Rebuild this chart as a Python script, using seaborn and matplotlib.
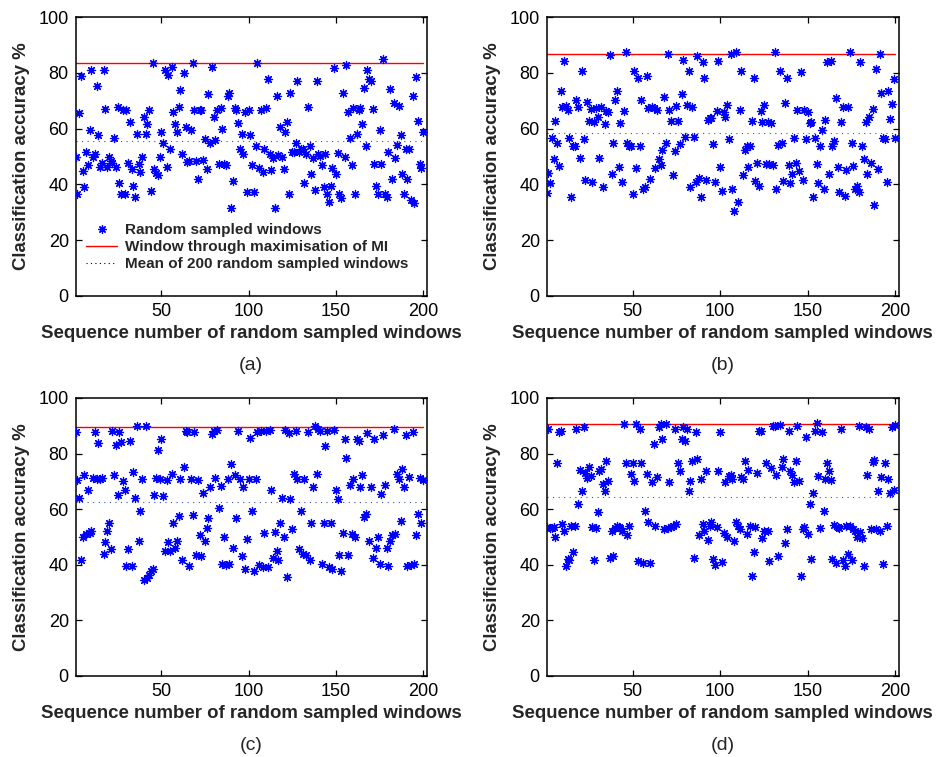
import numpy as np
import pandas as pd
import matplotlib
matplotlib.use("Agg")
import matplotlib.pyplot as plt
from matplotlib.lines import Line2D
import seaborn as sns

# ---------------- data ----------------
acc_a = [
    49.8, 36.4, 65.7, 78.7, 44.8, 39.0, 51.6, 47.0, 59.5, 80.9,
    49.8, 51.0, 75.3, 57.7, 46.2, 47.8, 81.1, 66.9, 46.2, 49.8,
    48.4, 47.8, 56.8, 46.2, 67.7, 40.6, 36.7, 66.5, 36.7, 66.7,
    47.8, 62.4, 45.4, 39.4, 35.5, 58.2, 47.2, 44.4, 49.8, 64.3,
    58.2, 61.8, 66.7, 37.6, 83.6, 45.4, 44.2, 43.4, 49.8, 58.8,
    55.0, 80.9, 46.2, 79.1, 52.6, 82.1, 65.9, 61.8, 58.8, 67.7,
    73.7, 50.8, 79.8, 60.6, 48.0, 48.4, 59.4, 83.6, 66.7, 48.4, 41.8,
    66.7, 66.5, 48.6, 56.2, 45.6, 72.5, 55.0, 82.1, 64.2, 55.8,
    66.5, 47.2, 67.5, 60.0, 47.2, 46.8, 71.7, 72.9, 31.4, 41.2,
    67.5, 66.5, 61.9, 52.6, 58.2, 51.0, 65.9, 37.4, 66.5, 57.6,
    47.0, 37.4, 53.8, 83.6, 46.0, 66.5, 44.4, 52.6, 67.3, 77.9,
    51.0, 45.0, 49.6, 31.4, 71.7, 50.4, 60.7, 49.8, 45.4, 58.8,
    62.4, 36.7, 72.9, 51.6, 51.6, 55.0, 77.1, 51.6, 52.6, 52.8,
    40.4, 51.0, 67.7, 53.8, 43.8, 49.6, 38.0, 77.1, 51.0, 50.2,
    47.0, 39.2, 51.0, 36.4,
    33.7, 39.4, 46.0, 81.8, 43.8, 51.4, 36.7, 35.2, 72.9, 49.8,
    82.7, 65.9, 56.5, 47.0, 67.3, 36.7, 58.2, 66.7, 67.3, 61.8,
    74.7, 53.8, 80.9, 77.9, 77.1, 66.9, 47.2, 39.4, 36.4,
    59.5, 47.2, 84.8, 36.4, 35.5, 51.6, 74.3, 42.0, 69.3, 49.6,
    54.0, 68.1, 57.6, 43.8, 36.4, 52.6, 42.0, 52.6, 34.3, 71.7,
    33.2, 78.5, 62.7, 47.2, 46.0, 58.8,
]

acc_b = [
    36.8, 44.2, 40.4, 56.8, 49.0, 62.8, 54.8, 46.6, 73.6, 67.9,
    84.3, 68.1, 66.7, 56.5, 35.6, 53.8, 53.8, 70.3, 67.9, 49.4,
    80.5, 56.2, 41.6, 69.5, 62.8, 67.1, 40.7, 62.2, 67.5, 64.3,
    49.4, 67.9, 39.2, 61.7, 66.3, 66.1, 86.4, 43.6, 55.0, 70.3,
    73.6, 46.4, 61.9, 40.7, 66.3, 87.6, 54.8, 53.6, 53.6, 36.6,
    80.7, 45.8, 78.1, 53.6, 70.3, 38.4, 39.2, 79.0, 67.5, 41.8,
    67.9, 67.3, 46.0, 66.7, 49.1, 47.0, 52.4, 71.2, 54.8, 86.8,
    66.7, 62.8, 43.4, 52.0,
    68.1, 62.8, 54.5, 72.3, 84.6, 56.9, 68.3, 80.5, 39.0, 67.9,
    56.9, 40.7, 86.1, 42.4, 35.6, 83.7, 78.1, 41.6, 63.1, 63.7,
    63.7, 54.5, 41.0, 66.3, 84.4, 46.2, 37.8, 66.1, 64.3, 68.5,
    56.2, 86.8, 38.4, 30.5, 87.4, 33.6, 66.5, 80.8, 43.4, 52.4,
    53.8, 46.2, 53.8, 62.8, 78.3, 41.2, 47.8, 39.6, 66.3, 62.5,
    68.3, 47.3, 62.5, 47.3, 61.9, 47.0, 87.6, 38.4, 54.2, 80.7,
    55.0, 41.2, 69.1, 78.1, 47.0, 40.4, 43.6, 56.5, 47.6, 66.5,
    44.8, 80.4,
    41.4, 66.7, 56.3, 66.1, 61.9, 62.2, 35.4, 56.5, 47.3, 40.4,
    53.8, 59.5, 38.4, 63.1, 83.8, 43.6, 84.3, 53.6, 55.6, 71.1,
    46.2, 37.1, 62.3, 67.9, 35.9, 45.0, 67.7, 87.6, 54.8, 46.7,
    38.4, 39.5, 37.4, 83.8, 53.9, 49.1, 62.3, 43.6, 64.3, 47.8,
    67.1, 32.6, 81.3, 45.4, 86.8, 72.9, 56.5, 56.3, 40.8, 73.6,
    63.5, 68.7, 77.8, 56.8,
]

acc_c = [
    87.8, 70.4, 64.1, 41.6, 50.0, 72.4, 50.9, 67.0, 51.6, 52.0,
    71.2, 87.8, 71.0, 83.8, 71.0, 71.2, 43.8, 48.2, 52.0, 55.2,
    45.8, 88.2, 72.4, 83.2, 65.0, 87.8, 84.0, 70.0, 67.0, 39.5,
    45.8, 84.6, 39.5, 73.4, 64.0, 89.8, 48.4, 59.4, 71.0, 34.4,
    89.8, 35.2, 36.5, 37.7, 38.6, 65.0, 71.2, 81.2, 71.0, 85.4,
    64.6, 44.9, 70.6, 48.2, 44.9, 72.8, 55.2, 46.1, 48.5, 57.6,
    71.0, 41.6, 75.2, 88.0, 87.6, 39.5, 71.0, 57.8, 87.8, 43.4,
    70.4, 50.6, 43.2, 66.0, 48.5, 53.2, 56.8, 68.0, 87.2, 88.0,
    71.2, 88.4, 60.4, 68.4, 40.4, 50.0, 39.8, 71.0, 40.4, 76.4,
    46.1, 72.4, 56.8, 88.0, 71.0, 43.2, 68.0, 38.6, 49.4, 71.0,
    85.6, 59.4, 37.7, 71.0, 87.8, 39.8, 88.0, 39.2, 51.4, 88.0,
    39.2, 88.4, 66.8, 42.4, 51.8, 44.8, 41.8, 55.2, 64.0, 50.0,
    88.4, 35.6, 87.4, 63.8, 53.0, 72.8, 88.2, 71.0, 45.8, 59.4,
    44.0, 71.0, 43.4, 87.8, 41.8, 55.2, 68.0, 90.0, 72.8, 89.0,
    88.2, 40.4, 55.2, 82.8, 88.2, 39.2, 55.2, 38.6, 88.4, 67.0,
    63.8, 43.6, 37.7, 51.4, 85.4, 78.4, 43.6, 68.6, 51.2, 70.8,
    50.0, 85.4, 84.4, 68.0, 72.2, 57.2, 58.2, 87.4, 48.5, 68.0,
    42.6, 85.4, 46.2, 50.0, 40.4, 65.6, 86.6, 68.6, 46.0, 39.5,
    48.5, 50.6, 89.0, 51.2, 72.8, 71.0, 55.8, 74.6, 68.0, 86.6,
    39.5, 71.6, 39.8, 87.8, 40.4, 50.6, 58.2, 71.2, 55.2, 70.4,
]

acc_d = [
    53.5, 88.9, 53.3, 53.3, 53.5, 50.1, 76.7, 87.7, 88.3, 54.5,
    52.3, 39.5, 42.1, 41.9, 54.1, 44.7, 54.1, 88.9, 61.7, 74.1,
    66.5, 89.5, 72.9, 71.1, 75.1, 72.1, 53.7, 41.8, 53.1, 59.1,
    73.9, 74.5, 69.1, 66.5, 77.5, 70.1, 42.3, 52.0, 43.3, 53.1,
    54.1, 53.5, 53.1, 52.3, 90.7, 76.7, 50.7, 53.9, 72.5, 76.7,
    70.3, 90.7, 41.3, 88.9, 76.7, 40.7, 59.3, 72.7, 55.5, 40.7,
    69.7, 83.5, 53.9, 71.5, 89.5, 90.7, 85.3, 52.7, 90.7, 53.1,
    69.7, 53.5, 54.1, 88.9, 54.7, 76.5, 73.9, 85.3, 89.5, 84.7,
    88.9, 66.5, 70.1, 77.5, 42.3, 87.7, 78.1, 50.7, 70.7, 54.7,
    52.0, 73.9, 48.9, 53.9, 55.5, 42.1, 39.9, 53.5, 73.9, 87.7,
    41.1, 51.5, 69.9,
    49.9, 71.9, 72.3, 70.9, 48.7, 55.3, 54.1, 52.7, 71.5,
    70.9, 77.5, 51.1, 74.1, 54.1, 35.9, 44.7, 53.5, 73.1, 88.1,
    88.3, 49.5, 52.1, 76.5, 52.3, 41.5, 74.7, 90.1, 90.1, 72.3,
    43.3, 90.3, 75.1, 77.9, 47.9, 52.9, 88.3, 73.9, 72.3, 69.7,
    77.5, 89.9, 70.3, 35.9, 52.7, 53.5, 85.9, 50.9, 61.7, 42.1,
    65.9, 88.3, 90.9, 72.1, 53.3, 87.9, 59.3, 70.7, 76.5, 73.9,
    70.5, 42.1, 54.3, 40.7, 53.5, 53.3, 88.7, 41.9, 39.5, 54.1,
    43.9, 54.1, 41.9, 52.7, 52.1, 49.9, 90.1, 51.7, 49.5,
    39.5, 89.5, 72.3, 88.7, 52.9, 76.9, 77.7, 52.7, 66.5, 52.3,
    71.5, 40.3, 76.7, 54.1, 70.7, 65.9, 89.5, 67.0, 90.3,
]

mi_window_acc = [83.5, 86.8, 89.7, 90.6]      # red line per panel
panel_tags = ["(a)", "(b)", "(c)", "(d)"]
series = [acc_a, acc_b, acc_c, acc_d]

x_ticks = [50, 100, 150, 200]
y_ticks = [0, 20, 40, 60, 80, 100]
legend_labels = ["Random sampled windows",
                 "Window through maximisation of MI",
                 "Mean of 200 random sampled windows"]

# ---------------- style ----------------
sns.set_theme(style="ticks")
plt.rcParams['font.family'] = ['Liberation Sans', 'DejaVu Sans']
plt.rcParams['axes.linewidth'] = 1.1
plt.rcParams['xtick.direction'] = 'in'
plt.rcParams['ytick.direction'] = 'in'

fig = plt.figure(figsize=(9.36, 7.57), dpi=100)
W, H = 936.0, 757.0
# axes boxes in pixels (left, top, right, bottom)
boxes = [(75.7, 17, 426.7, 296), (546.7, 17, 899, 296),
         (75.7, 398, 426.7, 676), (546.7, 398, 899, 676)]

asterisk = (8, 2, 0)
for i, (vals, red, tag, box) in enumerate(zip(series, mi_window_acc, panel_tags, boxes)):
    l, t, r, b = box
    ax = fig.add_axes([l / W, 1 - b / H, (r - l) / W, (b - t) / H])
    seq = np.arange(1, len(vals) + 1)
    df = pd.DataFrame({"seq": seq, "acc": vals})
    sns.scatterplot(data=df, x="seq", y="acc", ax=ax, marker=asterisk, s=34,
                    color="blue", edgecolor="blue", linewidth=0.9, legend=False, zorder=3)
    ends = pd.DataFrame({"seq": [seq[0], seq[-1]], "acc": [red, red]})
    sns.lineplot(data=ends, x="seq", y="acc", ax=ax, color="red", linewidth=1.0, zorder=2)
    mean_v = float(np.mean(vals))
    ends_m = pd.DataFrame({"seq": [seq[0], seq[-1]], "acc": [mean_v, mean_v]})
    sns.lineplot(data=ends_m, x="seq", y="acc", ax=ax, color="#3a4fb0",
                 linewidth=0.8, linestyle=(0, (1, 4)), zorder=2)
    ax.set_xlim(1, 202)
    ax.set_ylim(0, 100)
    ax.set_xticks(x_ticks)
    ax.set_yticks(y_ticks)
    ax.tick_params(axis='both', which='both', direction='in', top=True, right=True,
                   length=4, width=0.9, labelsize=13, colors='black', pad=5)
    for sp in ax.spines.values():
        sp.set_color('black')
        sp.set_visible(True)
    ax.set_xlabel("Sequence number of random sampled windows", fontsize=13.4,
                  fontweight='bold', labelpad=4)
    ax.set_ylabel("Classification accuracy %", fontsize=13.4, fontweight='bold',
                  labelpad=6)
    fig.text(((l + r) / 2) / W, 1 - (b + 70) / H, tag, ha='center', va='center',
             fontsize=14)
    if i == 0:
        handles = [
            Line2D([], [], linestyle='none', marker=asterisk, markersize=6,
                   color='blue', markeredgewidth=0.9),
            Line2D([], [], color='red', linewidth=1.0),
            Line2D([], [], color='black', linewidth=0.8, linestyle=(0, (1, 3))),
        ]
        ax.legend(handles, legend_labels, loc='upper left',
                  bbox_to_anchor=(0.0, 0.30), frameon=False,
                  prop={'weight': 'bold', 'size': 11}, handlelength=2.0,
                  labelspacing=0.2, handletextpad=0.5, borderaxespad=0.3)

fig.savefig("out.png", dpi=100)
